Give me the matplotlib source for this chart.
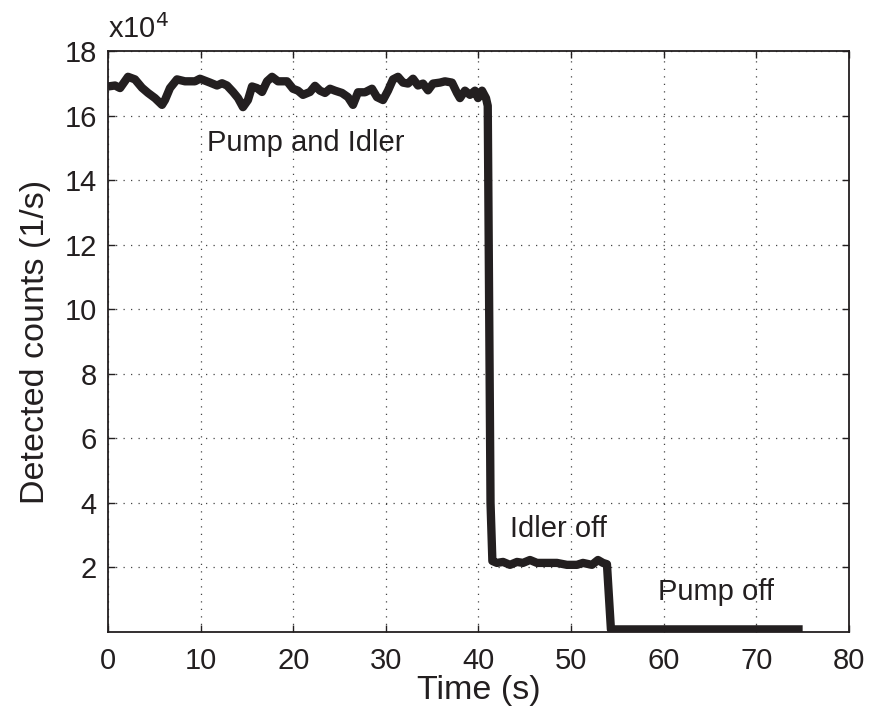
import matplotlib
matplotlib.use("Agg")
import matplotlib.pyplot as plt

plt.rcParams['font.family'] = ['Liberation Sans', 'DejaVu Sans']

# Detected count rate, in units of 10^4 counts per second
time_pump_idler = [0.00, 0.76, 1.30, 2.16, 2.91, 3.67, 4.32, 5.07, 5.83, 6.15,
                   6.69, 7.45, 8.31, 9.39, 9.93, 11.01, 11.77, 12.31, 12.85, 13.50,
                   14.04, 14.57, 15.11, 15.55, 16.09, 16.63, 17.17, 17.71, 18.35, 19.33,
                   19.97, 20.51, 21.05, 21.81, 22.35, 22.89, 23.43, 23.97, 24.51, 25.26,
                   25.91, 26.45, 26.99, 27.75, 28.50, 29.04, 29.69, 30.23, 30.77, 31.31,
                   31.85, 32.39, 32.93, 33.47, 34.01, 34.55, 35.09, 35.84, 36.38, 37.14,
                   37.68, 38.00, 38.54, 39.08, 39.62, 39.95, 40.38, 40.81, 41.00]
counts_pump_idler = [16.90, 16.93, 16.85, 17.20, 17.12, 16.86, 16.70, 16.54, 16.33, 16.48,
                     16.85, 17.12, 17.06, 17.06, 17.14, 17.02, 16.93, 17.00, 16.93, 16.73,
                     16.54, 16.26, 16.48, 16.90, 16.85, 16.73, 17.06, 17.20, 17.06, 17.06,
                     16.83, 16.77, 16.64, 16.73, 16.92, 16.77, 16.70, 16.83, 16.77, 16.70,
                     16.57, 16.33, 16.72, 16.72, 16.83, 16.57, 16.48, 16.77, 17.12, 17.20,
                     17.02, 16.99, 17.14, 16.93, 16.99, 16.78, 16.99, 17.02, 17.06, 17.02,
                     16.70, 16.54, 16.77, 16.64, 16.77, 16.54, 16.77, 16.54, 16.30]

time_idler_off = [41.30, 41.50, 41.99, 42.65, 43.40, 44.16, 44.80, 45.56, 46.32, 47.40,
                  48.47, 49.55, 50.63, 51.28, 52.25, 52.90, 53.44, 53.87]
counts_idler_off = [4.00, 2.20, 2.14, 2.17, 2.08, 2.17, 2.14, 2.23, 2.14, 2.14,
                    2.14, 2.08, 2.08, 2.14, 2.08, 2.23, 2.14, 2.10]

time_pump_off = [54.30, 57.0, 60.0, 63.0, 66.0, 69.0, 72.0, 75.0]
counts_pump_off = [0.08, 0.08, 0.08, 0.08, 0.08, 0.08, 0.08, 0.08]

x_ticks = [0, 10, 20, 30, 40, 50, 60, 70, 80]
y_ticks = [2, 4, 6, 8, 10, 12, 14, 16, 18]

time = time_pump_idler + time_idler_off + time_pump_off
counts = counts_pump_idler + counts_idler_off + counts_pump_off

ink = '#231f20'

fig = plt.figure(figsize=(8.71, 7.25), dpi=100)
ax = fig.add_axes([0.124, 0.1283, 0.8507, 0.8014])

ax.plot(time, counts, color=ink, linewidth=6.0, solid_joinstyle='round',
        solid_capstyle='butt')

ax.set_xlim(0, 80)
ax.set_ylim(0, 18)
ax.set_xticks(x_ticks)
ax.set_yticks(y_ticks)
ax.tick_params(direction='in', top=True, right=True, length=5, width=1.0,
               labelsize=21, colors=ink)
ax.tick_params(axis='x', pad=11)
ax.tick_params(axis='y', pad=8)
ax.grid(True, color='#444444', linestyle=(0, (1, 5)), linewidth=0.9)
for s in ax.spines.values():
    s.set_linewidth(1.3)
    s.set_color(ink)

ax.set_xlabel('Time (s)', fontsize=24.5, color=ink, labelpad=0)
ax.set_ylabel('Detected counts (1/s)', fontsize=24.5, color=ink, labelpad=10)

ax.text(0.0, 1.012, r'x10$^4$', transform=ax.transAxes, fontsize=21,
        color=ink, ha='left', va='bottom')

ax.text(10.7, 15.15, 'Pump and Idler', fontsize=21, color=ink, va='center')
ax.text(43.4, 3.2, 'Idler off', fontsize=21, color=ink, va='center')
ax.text(59.4, 1.24, 'Pump off', fontsize=21, color=ink, va='center')

fig.savefig('out.png', dpi=100)
